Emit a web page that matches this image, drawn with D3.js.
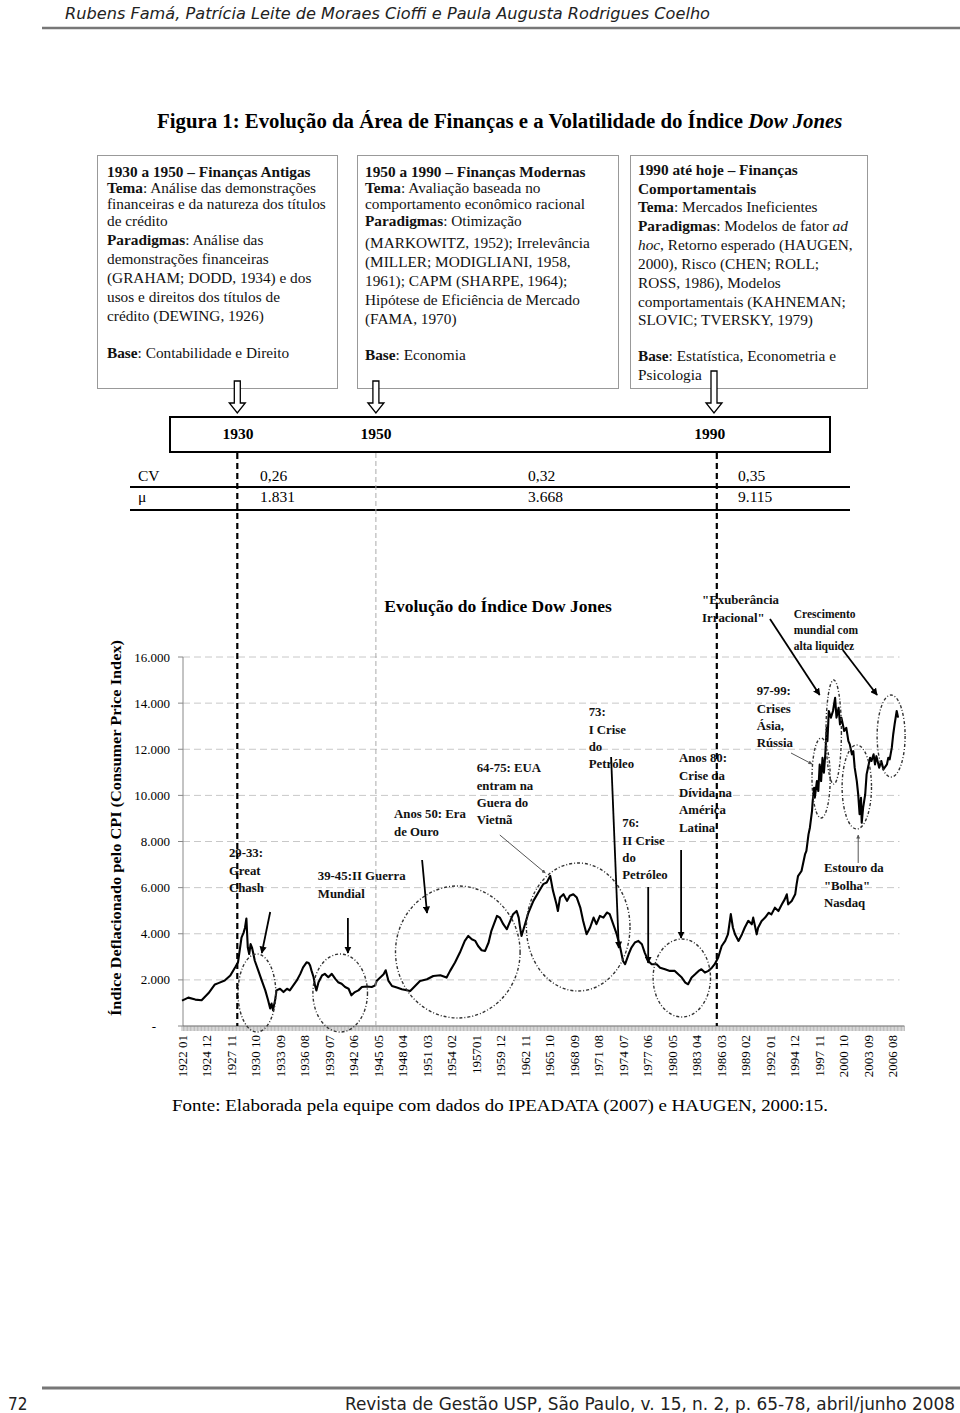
<!DOCTYPE html>
<html><head><meta charset="utf-8">
<script src="https://cdn.jsdelivr.net/npm/d3@7"></script>
<style>body{margin:0;background:#fff} svg{display:block}</style>
</head><body>
<svg id="c" width="960" height="1413"></svg>
<script>
// ---------------- DATA ----------------
const months = ["1922-01","1922-10","1923-08","1924-05","1925-03","1925-12","1926-05","1927-02","1927-10","1928-05","1928-09","1929-02","1929-05","1929-07","1929-09","1929-11","1930-01","1930-03","1930-05","1930-07","1930-09","1931-02","1931-07","1931-12","1932-04","1932-07","1932-09","1932-11","1933-02","1933-04","1933-09","1934-02","1934-07","1934-11","1935-04","1935-09","1936-02","1936-06","1936-11","1937-02","1937-04","1937-06","1937-09","1937-11","1938-01","1938-04","1938-09","1939-01","1939-06","1939-11","1940-04","1940-08","1941-01","1941-06","1941-11","1942-03","1942-08","1943-01","1943-06","1944-01","1944-08","1945-01",
"1945-03","1946-01","1946-04","1946-08","1947-01","1947-08","1948-03","1948-10","1949-03","1949-10","1950-05","1951-03","1951-12","1952-10","1953-07","1953-12","1954-07","1955-02","1955-09","1956-02","1956-07","1956-12","1957-04","1957-09","1958-02","1958-07","1958-11","1959-07","1959-11","1960-04","1960-09","1961-02","1961-06","1961-11","1962-02","1962-04","1962-06","1962-11","1963-04","1963-11","1964-06","1965-01","1965-06","1965-11","1966-03","1966-08",
"1966-10","1967-01","1967-06","1967-11","1968-03","1968-08","1969-01","1969-06","1969-10","1970-03","1970-08","1971-01","1971-05","1971-10","1972-03","1972-08","1972-12","1973-05","1973-10","1974-03","1974-07","1974-10","1975-03","1975-07","1975-12","1976-05","1976-10","1977-02","1977-07","1977-12","1978-07","1978-12","1979-07","1980-02","1980-09","1981-02","1981-07","1981-12","1982-04","1982-09","1983-02","1983-07","1983-11","1984-04","1984-09","1985-02","1985-06","1985-11","1986-04","1986-09","1987-01","1987-05","1987-08","1987-11","1988-04","1988-09","1989-01","1989-06","1989-11",
"1990-01","1990-06","1990-08","1991-01","1991-06","1991-11","1992-03","1992-08","1993-01","1993-06","1993-10","1994-01","1994-03","1994-08","1995-01","1995-03","1995-05","1995-10","1996-03","1996-05","1996-08","1996-10","1997-01","1997-02","1997-04","1997-05","1997-08","1997-10","1997-12","1998-02","1998-04","1998-06","1998-08","1998-10","1998-11","1999-01","1999-04","1999-07","1999-10","1999-12","2000-03","2000-05","2000-07","2000-11","2001-02","2001-05","2001-07","2001-10","2001-12","2002-02","2002-05","2002-07","2002-09","2002-11","2002-12","2003-02","2003-05","2003-07","2003-09","2003-12","2004-02","2004-05","2004-07","2004-09","2005-01","2005-04","2005-07","2005-12","2006-02","2006-04","2006-07","2006-09","2006-11","2007-02","2007-04"];
const dowValues = [1100,1230,1145,1115,1430,1800,1860,1975,2190,2545,2760,3830,4050,4260,4660,3400,3120,3550,3400,3120,2830,2400,1970,1545,1115,760,970,690,1115,1545,1615,1470,1615,1545,1760,1975,2260,2545,2760,2730,2620,2400,2115,1760,1545,1900,2190,2260,2115,2260,2045,1900,1830,1690,1615,1330,1470,1545,1690,1715,1690,1760,
1955,2240,2415,1955,1735,1665,1590,1550,1520,1735,1955,2025,2170,2200,2100,2390,2750,3185,3690,3905,3760,3690,3470,3285,3255,3620,4125,4775,4700,4415,4195,4560,4850,4990,4700,4270,3905,4415,4920,5425,5790,6150,6220,6510,5860,5280,
4985,5570,5715,5425,5645,5715,5570,5135,4560,3980,4270,4700,4415,4775,4700,4920,4850,4415,3980,3400,2820,2680,3110,3400,3620,3690,3545,3185,2820,2680,2680,2530,2460,2390,2390,2240,2100,1880,1810,2100,2240,2390,2460,2315,2390,2530,2680,2970,3470,3690,3980,4850,4270,3980,3690,3980,4270,4560,4410,
4700,3975,4260,4550,4700,4910,4840,5130,4985,5275,5490,5710,5275,5420,5710,6140,6500,6720,7440,7590,8310,8600,9320,9750,10330,9900,10620,10190,11340,10620,11630,10980,11780,12930,12350,13660,13370,13660,14230,13370,13800,13080,13370,12790,12930,12350,12210,11780,11920,11200,10620,10040,9180,9900,8810,9460,10040,10910,11200,11630,11490,11780,11340,11700,11200,11490,11130,11340,11630,11560,12070,12640,13080,13660,13370];
const yTickValues = [0,2000,4000,6000,8000,10000,12000,14000,16000];
const yTickLabels = ["-","2.000","4.000","6.000","8.000","10.000","12.000","14.000","16.000"];
const xTickLabels = ["1922 01","1924 12","1927 11","1930 10","1933 09","1936 08","1939 07","1942 06","1945 05","1948 04","1951 03","1954 02","195701","1959 12","1962 11","1965 10","1968 09","1971 08","1974 07","1977 06","1980 05","1983 04","1986 03","1989 02","1992 01","1994 12","1997 11","2000 10","2003 09","2006 08"];
const periodYears = ["1930","1950","1990"];
const cvValues = ["0,26","0,32","0,35"];
const muValues = ["1.831","3.668","9.115"];

// ---------------- SETUP ----------------
const svg = d3.select("#c");
const serif = "'Liberation Serif','Times New Roman',serif";
const tahoma = "'DejaVu Sans Condensed','DejaVu Sans',sans-serif";
const mi = s => { const y = +s.slice(0,4), m = +s.slice(-2); return (y-1922)*12 + (m-1); };

const x = d3.scaleLinear().domain([0,1032]).range([182,904.4]);
const y = d3.scaleLinear().domain([0,16000]).range([1026,657]);

// header
svg.append("text").attr("x",65).attr("y",19).attr("font-family",tahoma).attr("font-style","italic")
  .attr("font-size",16.5).attr("fill","#222").attr("textLength",645).attr("lengthAdjust","spacingAndGlyphs")
  .text("Rubens Famá, Patrícia Leite de Moraes Cioffi e Paula Augusta Rodrigues Coelho");
svg.append("line").attr("x1",42).attr("x2",960).attr("y1",28).attr("y2",28).attr("stroke","#777").attr("stroke-width",2.5);

// title
const t = svg.append("text").attr("x",157).attr("y",128).attr("font-family",serif).attr("font-weight","bold").attr("font-size",20.8);
t.append("tspan").text("Figura 1: Evolução da Área de Finanças e a Volatilidade do Índice ");
t.append("tspan").attr("font-style","italic").text("Dow Jones");

// boxes
const boxes = [
 {x:97, w:240, tx:107, lines:[
  [[["1930 a 1950 – Finanças Antigas","b"]],172],
  [[["Tema","b"],[": Análise das demonstrações",""]],188],
  [[["financeiras e da natureza dos títulos",""]],204],
  [[["de crédito",""]],221],
  [[["Paradigmas","b"],[": Análise das",""]],240],
  [[["demonstrações financeiras",""]],259],
  [[["(GRAHAM; DODD, 1934) e dos",""]],278],
  [[["usos e direitos dos títulos de",""]],297],
  [[["crédito (DEWING, 1926)",""]],316],
  [[["Base","b"],[": Contabilidade e Direito",""]],353]]},
 {x:357, w:261, tx:365, lines:[
  [[["1950 a 1990 – Finanças Modernas","b"]],172],
  [[["Tema","b"],[": Avaliação baseada no",""]],188],
  [[["comportamento econômico racional",""]],204],
  [[["Paradigmas","b"],[": Otimização",""]],221],
  [[["(MARKOWITZ, 1952); Irrelevância",""]],243],
  [[["(MILLER; MODIGLIANI, 1958,",""]],262],
  [[["1961); CAPM (SHARPE, 1964);",""]],281],
  [[["Hipótese de Eficiência de Mercado",""]],300],
  [[["(FAMA, 1970)",""]],319],
  [[["Base","b"],[": Economia",""]],355]]},
 {x:630, w:237, tx:638, lines:[
  [[["1990 até hoje – Finanças","b"]],170],
  [[["Comportamentais","b"]],189],
  [[["Tema","b"],[": Mercados Ineficientes",""]],207],
  [[["Paradigmas","b"],[": Modelos de fator ",""],["ad","i"]],226],
  [[["hoc","i"],[", Retorno esperado (HAUGEN,",""]],245],
  [[["2000), Risco (CHEN; ROLL;",""]],264],
  [[["ROSS, 1986), Modelos",""]],283],
  [[["comportamentais (KAHNEMAN;",""]],302],
  [[["SLOVIC; TVERSKY, 1979)",""]],320],
  [[["Base","b"],[": Estatística, Econometria e",""]],356],
  [[["Psicologia",""]],375]]}
];
boxes.forEach(b => {
  svg.append("rect").attr("x",b.x+0.5).attr("y",155.5).attr("width",b.w).attr("height",233)
    .attr("fill","#fff").attr("stroke","#999").attr("stroke-width",1);
  b.lines.forEach(([segs,ly]) => {
    const tx = svg.append("text").attr("x",b.tx).attr("y",ly).attr("dy","0.35em")
      .attr("font-family",serif).attr("font-size",15.3).attr("fill","#111");
    segs.forEach(([s,st]) => {
      const sp = tx.append("tspan").text(s);
      if (st==="b") sp.attr("font-weight","bold");
      if (st==="i") sp.attr("font-style","italic");
    });
  });
});

// block arrows from boxes to timeline
const arrowDefs = [{m:"1928-08", top:381},{m:"1945-02", top:381},{m:"1985-05", top:371}];
arrowDefs.forEach(a => {
  const cx = x(mi(a.m)), tip = 413, hb = 403;
  const p = `M${cx-3},${a.top} L${cx+3},${a.top} L${cx+3},${hb} L${cx+8},${hb} L${cx},${tip} L${cx-8},${hb} L${cx-3},${hb} Z`;
  svg.append("path").attr("d",p).attr("fill","#fff").attr("stroke","#000").attr("stroke-width",1.3);
});

// timeline box
svg.append("rect").attr("x",170).attr("y",417).attr("width",660).attr("height",35)
  .attr("fill","none").attr("stroke","#000").attr("stroke-width",2);
const yearPos = ["1928-09","1945-02","1984-11"];
periodYears.forEach((yr,i) => {
  svg.append("text").attr("x",x(mi(yearPos[i]))).attr("y",434).attr("dy","0.35em").attr("text-anchor","middle")
    .attr("font-family",serif).attr("font-weight","bold").attr("font-size",15.5).text(yr);
});

// dashed vertical period lines
const vLines = [{m:"1928-08", c:"#000", w:2.2, d:"6,4"},{m:"1945-02", c:"#aaa", w:1, d:"5,3"},{m:"1985-09", c:"#000", w:2.2, d:"6,4"}];

// CV / mu table
svg.append("text").attr("x",138).attr("y",476).attr("dy","0.35em").attr("font-family",serif).attr("font-size",15.5).text("CV");
svg.append("text").attr("x",138).attr("y",497).attr("dy","0.35em").attr("font-family",serif).attr("font-size",15.5).text("μ");
const valX = [260,528,738];
cvValues.forEach((v,i)=> svg.append("text").attr("x",valX[i]).attr("y",476).attr("dy","0.35em").attr("font-family",serif).attr("font-size",15.5).text(v));
muValues.forEach((v,i)=> svg.append("text").attr("x",valX[i]).attr("y",497).attr("dy","0.35em").attr("font-family",serif).attr("font-size",15.5).text(v));
svg.append("line").attr("x1",130).attr("x2",850).attr("y1",487).attr("y2",487).attr("stroke","#000").attr("stroke-width",2);
svg.append("line").attr("x1",130).attr("x2",850).attr("y1",510).attr("y2",510).attr("stroke","#000").attr("stroke-width",2);

// ---------------- CHART ----------------
const g = svg.append("g");
// gridlines
g.selectAll(".grid").data(yTickValues.filter(v=>v>0)).join("line")
  .attr("x1",x(0)+1).attr("x2",x(1025)).attr("y1",d=>y(d)).attr("y2",d=>y(d))
  .attr("stroke","#c8c8c8").attr("stroke-width",1).attr("stroke-dasharray","7,4");

// y axis
g.append("line").attr("x1",x(0)+1).attr("x2",x(0)+1).attr("y1",y(0)).attr("y2",y(16000)).attr("stroke","#888");
g.selectAll(".yt").data(yTickValues).join("line")
  .attr("x1",x(0)-4).attr("x2",x(0)+1).attr("y1",d=>y(d)).attr("y2",d=>y(d)).attr("stroke","#888");
g.selectAll(".yl").data(yTickValues).join("text")
  .attr("x",(d,i)=> i===0 ? 156 : 170).attr("y",d=>y(d)).attr("dy","0.35em").attr("text-anchor","end")
  .attr("font-family",serif).attr("font-size",13).text((d,i)=>yTickLabels[i]);

// y axis title
g.append("text").attr("transform",`translate(121,828) rotate(-90)`).attr("text-anchor","middle")
  .attr("font-family",serif).attr("font-weight","bold").attr("font-size",14)
  .attr("textLength",376).attr("lengthAdjust","spacingAndGlyphs")
  .text("Índice Deflacionado pelo CPI (Consumer Price Index)");

// x axis
g.append("line").attr("x1",x(0)+1).attr("x2",x(1032)).attr("y1",y(0)).attr("y2",y(0)).attr("stroke","#666").attr("stroke-width",1);
g.selectAll(".xt").data(d3.range(0,1033,2)).join("line")
  .attr("x1",d=>x(d)).attr("x2",d=>x(d)).attr("y1",y(0)).attr("y2",y(0)+5)
  .attr("stroke","#888").attr("stroke-width",0.6);
g.selectAll(".xl").data(xTickLabels).join("text")
  .attr("transform",d=>{ const yy=+d.slice(0,4), mm=+d.slice(-2); return `translate(${x((yy-1922)*12+mm-1)},${y(0)+9}) rotate(-90)`; })
  .attr("dy","0.35em").attr("text-anchor","end").attr("font-family",serif).attr("font-size",13).text(d=>d);

// vertical dashed period lines (drawn above table, through chart)
vLines.forEach(v => {
  svg.append("line").attr("x1",x(mi(v.m))).attr("x2",x(mi(v.m))).attr("y1",453).attr("y2",y(0))
    .attr("stroke",v.c).attr("stroke-width",v.w).attr("stroke-dasharray",v.d);
});

// chart title
g.append("text").attr("x",498).attr("y",606).attr("dy","0.35em").attr("text-anchor","middle")
  .attr("font-family",serif).attr("font-weight","bold").attr("font-size",17.5).text("Evolução do Índice Dow Jones");

// data line
const pts = months.map((m,i)=>({m:mi(m), v:dowValues[i]}));
g.append("path").datum(pts).attr("fill","none").attr("stroke","#000").attr("stroke-width",2.1)
  .attr("stroke-linejoin","round")
  .attr("d", d3.line().x(d=>x(d.m)).y(d=>y(d.v)));

// annotations: ellipses (center month, value, radius months, radius value)
const ellipses = [
 {m:107,v:1431,rm:27,rv:1691},{m:226,v:1431,rm:39,rv:1691},{m:394,v:3209,rm:89,rv:2862},
 {m:566,v:4293,rm:74,rv:2775},{m:714,v:2081,rm:41,rv:1691},{m:913,v:10753,rm:13,rv:1734},
 {m:931,v:12748,rm:11,rv:2255},{m:964,v:10363,rm:21,rv:1821},{m:1013,v:12574,rm:20,rv:1778}];
g.selectAll(".ell").data(ellipses).join("ellipse")
  .attr("cx",d=>x(d.m)).attr("cy",d=>y(d.v)).attr("rx",d=>x(d.m+d.rm)-x(d.m)).attr("ry",d=>y(d.v-d.rv)-y(d.v))
  .attr("fill","none").attr("stroke","#333").attr("stroke-width",1.4).attr("stroke-dasharray","3,2,1,2");

// arrows
const defs = svg.append("defs");
[["ahB","#000"],["ahG","#555"]].forEach(([id,c])=>{
  defs.append("marker").attr("id",id).attr("viewBox","0 0 10 10").attr("refX",9).attr("refY",5)
    .attr("markerWidth",4).attr("markerHeight",4).attr("orient","auto")
    .append("path").attr("d","M0,0 L10,5 L0,10 Z").attr("fill",c);
});
const arrows = [
 {m1:126,v1:4943,m2:114,v2:3165},{m1:237,v1:4683,m2:237,v2:3165},{m1:343,v1:7198,m2:350,v2:4900},
 {m1:454,v1:8282,m2:519,v2:6634,thin:true},{m1:613,v1:11664,m2:624,v2:3382},{m1:666,v1:6027,m2:666,v2:2732},
 {m1:713,v1:7631,m2:713,v2:3816},{m1:840,v1:17648,m2:911,v2:14352},{m1:944,v1:16303,m2:993,v2:14352},
 {m1:870,v1:11837,m2:900,v2:11360,thin:true},{m1:966,v1:7068,m2:966,v2:8282,thin:true}];
g.selectAll(".arr").data(arrows).join("line")
  .attr("x1",d=>x(d.m1)).attr("y1",d=>y(d.v1)).attr("x2",d=>x(d.m2)).attr("y2",d=>y(d.v2))
  .attr("stroke",d=>d.thin?"#555":"#000").attr("stroke-width",d=>d.thin?1:1.8)
  .attr("marker-end",d=>d.thin?"url(#ahG)":"url(#ahB)");

// annotation texts
const annoTexts = [
 {m:67,v:7501,lines:["29-33:","Great","Chash"]},
 {m:194,v:6504,lines:["39-45:II Guerra","Mundial"]},
 {m:303,v:9192,lines:["Anos 50: Era","de Ouro"]},
 {m:421,v:11187,lines:["64-75: EUA","entram na","Guera do","Vietnã"]},
 {m:581,v:13615,lines:["73:","I Crise","do","Petróleo"]},
 {m:629,v:8802,lines:["76:","II Crise","do","Petróleo"]},
 {m:710,v:11620,lines:["Anos 80:","Crise da","Dívida na","América","Latina"]},
 {m:743,v:18471,lines:["\"Exuberância","Irracional\""]},
 {m:874,v:17864,lines:["Crescimento","mundial com","alta liquidez"],small:true},
 {m:821,v:14526,lines:["97-99:","Crises","Ásia,","Rússia"]},
 {m:917,v:6851,lines:["Estouro da","\"Bolha\"","Nasdaq"]}];
annoTexts.forEach(a => {
  const lh = a.small ? 16 : 17.3;
  a.lines.forEach((l,i) => {
    g.append("text").attr("x",x(a.m)).attr("y",y(a.v)+i*lh).attr("dy","0.35em")
      .attr("font-family",serif).attr("font-weight","bold").attr("font-size",a.small?11.5:12.8)
      .attr("fill","#111").text(l);
  });
});

// source
svg.append("text").attr("x",172).attr("y",1111).attr("font-family",serif).attr("font-size",17)
  .attr("textLength",656).attr("lengthAdjust","spacingAndGlyphs")
  .text("Fonte: Elaborada pela equipe com dados do IPEADATA (2007) e HAUGEN, 2000:15.");

// footer
svg.append("line").attr("x1",42).attr("x2",960).attr("y1",1388).attr("y2",1388).attr("stroke","#777").attr("stroke-width",3);
svg.append("text").attr("x",8).attr("y",1410).attr("font-family",tahoma).attr("font-size",17).attr("fill","#222").text("72");
svg.append("text").attr("x",345).attr("y",1410).attr("font-family",tahoma).attr("font-size",17).attr("fill","#222")
  .attr("textLength",610).attr("lengthAdjust","spacingAndGlyphs")
  .text("Revista de Gestão USP, São Paulo, v. 15, n. 2, p. 65-78, abril/junho 2008");
</script>
</body></html>
